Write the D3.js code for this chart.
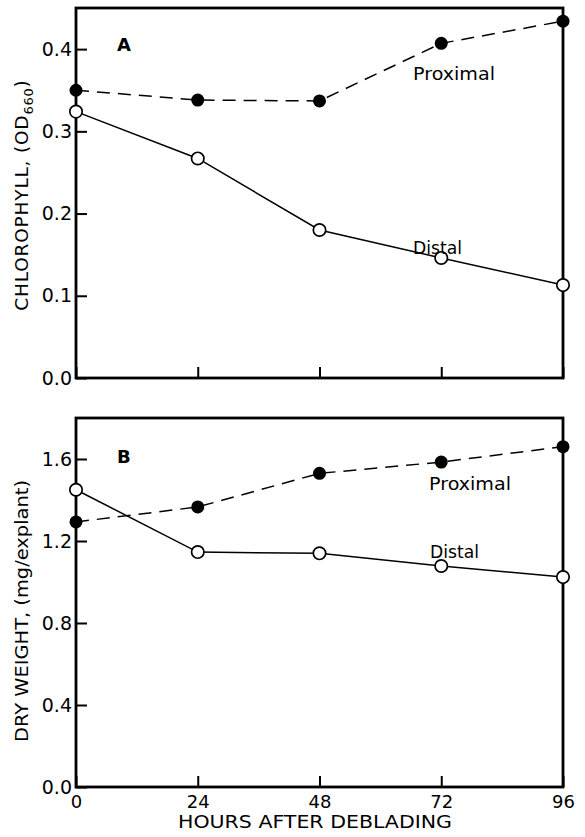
<!DOCTYPE html>
<html>
<head>
<meta charset="utf-8">
<script src="https://cdn.jsdelivr.net/npm/d3@7"></script>
<style>
  body { margin: 0; background: #fff; }
  svg { display: block; font-family: "DejaVu Sans", sans-serif; }
</style>
</head>
<body>
<svg width="585" height="837"></svg>
<script>
// hours after deblading
const hours = [0, 24, 48, 72, 96];

// panel A: chlorophyll (OD660)
const chlProximal = [0.35, 0.338, 0.337, 0.407, 0.434];
const chlDistal = [0.324, 0.267, 0.18, 0.146, 0.113];

// panel B: dry weight (mg/explant)
const dwProximal = [1.293, 1.366, 1.53, 1.585, 1.66];
const dwDistal = [1.45, 1.146, 1.14, 1.078, 1.024];

const xTicks = [0, 24, 48, 72, 96];
const chlTicks = [0.0, 0.1, 0.2, 0.3, 0.4];
const dwTicks = [0.0, 0.4, 0.8, 1.2, 1.6];

const svg = d3.select("svg");

const x = d3.scaleLinear().domain([0, 96]).range([76, 563]);

// 畫一個面板
function panel(opts) {
    const y = d3.scaleLinear().domain(opts.domain).range([opts.bottom, opts.top]);
    const g = svg.append("g");

    // frame
    g.append("rect")
        .attr("x", x(0))
        .attr("y", opts.top)
        .attr("width", x(96) - x(0))
        .attr("height", opts.bottom - opts.top)
        .attr("fill", "none")
        .attr("stroke", "#000")
        .attr("stroke-width", 2.8);

    // y ticks (inward)
    const yAxis = d3.axisLeft(y)
        .tickValues(opts.yTicks)
        .tickSize(-11)
        .tickPadding(4)
        .tickFormat(d3.format(".1f"));
    g.append("g")
        .attr("transform", `translate(${x(0)},0)`)
        .call(yAxis)
        .call(a => a.select(".domain").remove())
        .call(a => a.selectAll(".tick line").attr("stroke-width", 2))
        .call(a => a.selectAll(".tick text")
            .attr("font-size", 19)
            .attr("font-family", "DejaVu Sans")
            .attr("fill", "#000"));

    // x ticks (inward)
    const xAxis = d3.axisBottom(x)
        .tickValues(xTicks)
        .tickSize(-11)
        .tickPadding(8)
        .tickFormat(opts.xLabels ? d3.format("d") : "");
    g.append("g")
        .attr("transform", `translate(0,${opts.bottom})`)
        .call(xAxis)
        .call(a => a.select(".domain").remove())
        .call(a => a.selectAll(".tick line").attr("stroke-width", 2))
        .call(a => a.selectAll(".tick text")
            .attr("font-size", 18)
            .attr("font-family", "DejaVu Sans")
            .attr("fill", "#000"));

    const line = d3.line()
        .x((d, i) => x(hours[i]))
        .y(d => y(d));

    g.append("path")
        .datum(opts.distal)
        .attr("d", line)
        .attr("fill", "none")
        .attr("stroke", "#000")
        .attr("stroke-width", 1.5);

    g.append("path")
        .datum(opts.proximal)
        .attr("d", line)
        .attr("fill", "none")
        .attr("stroke", "#000")
        .attr("stroke-width", 1.5)
        .attr("stroke-dasharray", "13,8");

    g.selectAll(".dist")
        .data(opts.distal)
        .join("circle")
        .attr("cx", (d, i) => x(hours[i]))
        .attr("cy", d => y(d))
        .attr("r", 6.2)
        .attr("fill", "#fff")
        .attr("stroke", "#000")
        .attr("stroke-width", 1.7);

    g.selectAll(".prox")
        .data(opts.proximal)
        .join("circle")
        .attr("cx", (d, i) => x(hours[i]))
        .attr("cy", d => y(d))
        .attr("r", 6.5)
        .attr("fill", "#000");

    // panel letter
    g.append("text")
        .attr("x", 117)
        .attr("y", opts.letterY)
        .attr("font-size", 18)
        .attr("font-weight", "bold")
        .text(opts.letter);

    // series labels
    g.append("text")
        .attr("x", opts.proxLabel[0])
        .attr("y", opts.proxLabel[1])
        .attr("font-size", 17)
        .attr("textLength", 82)
        .attr("lengthAdjust", "spacingAndGlyphs")
        .text("Proximal");
    g.append("text")
        .attr("x", opts.distLabel[0])
        .attr("y", opts.distLabel[1])
        .attr("font-size", 17)
        .attr("textLength", 49)
        .attr("lengthAdjust", "spacingAndGlyphs")
        .text("Distal");

    return g;
}

const gA = panel({
    domain: [0, 0.45], top: 8, bottom: 378,
    yTicks: chlTicks, xLabels: false,
    proximal: chlProximal, distal: chlDistal,
    letter: "A", letterY: 51,
    proxLabel: [413, 80], distLabel: [413, 254]
});

const gB = panel({
    domain: [0, 1.8], top: 418, bottom: 787,
    yTicks: dwTicks, xLabels: true,
    proximal: dwProximal, distal: dwDistal,
    letter: "B", letterY: 463,
    proxLabel: [429, 490], distLabel: [430, 558]
});

// axis titles
const t1 = svg.append("text")
    .attr("transform", "translate(28,195) rotate(-90)")
    .attr("text-anchor", "middle")
    .attr("font-size", 18.5)
    .attr("letter-spacing", 0.8);
t1.append("tspan").text("CHLOROPHYLL, (OD");
t1.append("tspan").attr("font-size", 13).attr("dy", 5).text("660");
t1.append("tspan").attr("dy", -5).text(")");

svg.append("text")
    .attr("transform", "translate(28,611) rotate(-90)")
    .attr("text-anchor", "middle")
    .attr("font-size", 18)
    .attr("textLength", 262)
    .attr("lengthAdjust", "spacingAndGlyphs")
    .text("DRY WEIGHT, (mg/explant)");

svg.append("text")
    .attr("x", 315)
    .attr("y", 828)
    .attr("text-anchor", "middle")
    .attr("font-size", 17)
    .attr("textLength", 274)
    .attr("lengthAdjust", "spacingAndGlyphs")
    .text("HOURS AFTER DEBLADING");
</script>
</body>
</html>
